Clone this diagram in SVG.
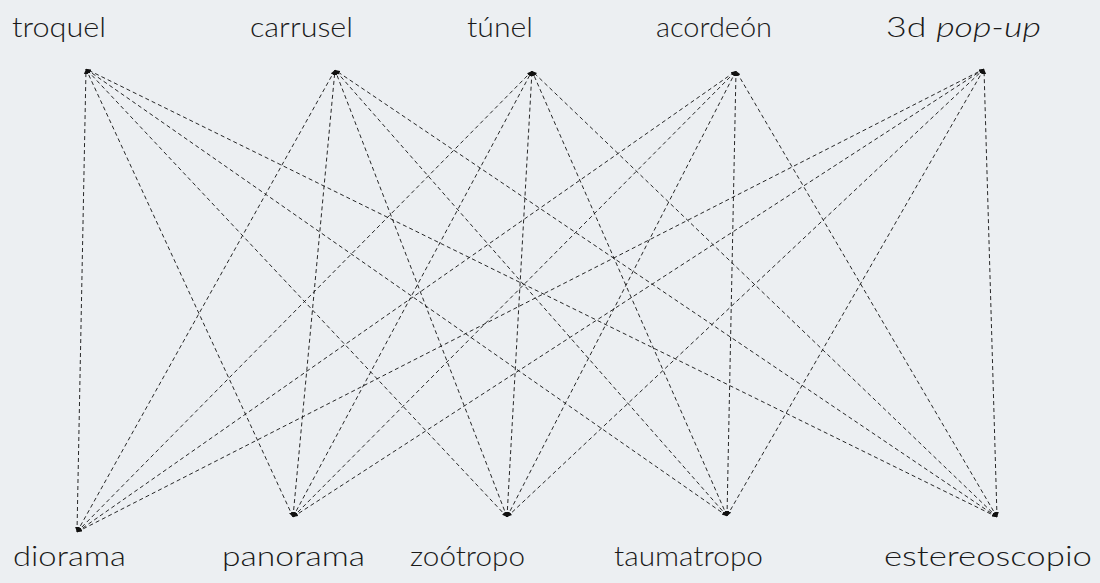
<svg xmlns="http://www.w3.org/2000/svg" width="1100" height="583" viewBox="0 0 1100 583">
<style>
.lbl{font-family:"Lato","Liberation Sans",sans-serif;font-weight:300;font-size:27px;fill:#1a1a1a;}
.e{fill:none;stroke:#111;stroke-width:0.9;stroke-dasharray:4 3;marker-start:url(#a);marker-end:url(#a);}
</style>
<defs>
<marker id="a" viewBox="0 0 10 10" refX="10" refY="5" markerWidth="5" markerHeight="5" markerUnits="userSpaceOnUse" orient="auto-start-reverse">
<path d="M0,1 L10,5 L0,9 Z" fill="#111"/>
</marker>
</defs>
<rect width="1100" height="583" fill="#ECEFF2"/>
<g id="connectors">
<path class="e" d="M77,532 L86,69"/><path class="e" d="M77,532 L335,70"/><path class="e" d="M77,532 L532,71"/><path class="e" d="M77,532 L736,71"/><path class="e" d="M77,532 L984,69"/>
<path class="e" d="M293,517 L86,69"/><path class="e" d="M293,517 L335,70"/><path class="e" d="M293,517 L532,71"/><path class="e" d="M293,517 L736,71"/><path class="e" d="M293,517 L984,69"/>
<path class="e" d="M507,517 L86,69"/><path class="e" d="M507,517 L335,70"/><path class="e" d="M507,517 L532,71"/><path class="e" d="M507,517 L736,71"/><path class="e" d="M507,517 L984,69"/>
<path class="e" d="M727,516 L86,69"/><path class="e" d="M727,516 L335,70"/><path class="e" d="M727,516 L532,71"/><path class="e" d="M727,516 L736,71"/><path class="e" d="M727,516 L984,69"/>
<path class="e" d="M997,517 L86,69"/><path class="e" d="M997,517 L335,70"/><path class="e" d="M997,517 L532,71"/><path class="e" d="M997,517 L736,71"/><path class="e" d="M997,517 L984,69"/>
</g>
<g id="troquel"><text class="lbl" x="12" y="37" textLength="94" lengthAdjust="spacingAndGlyphs">troquel</text></g>
<g id="carrusel"><text class="lbl" x="250" y="37" textLength="103" lengthAdjust="spacingAndGlyphs">carrusel</text></g>
<g id="tunel"><text class="lbl" x="467" y="37" textLength="66" lengthAdjust="spacingAndGlyphs">túnel</text></g>
<g id="acordeon"><text class="lbl" x="656" y="37" textLength="116" lengthAdjust="spacingAndGlyphs">acordeón</text></g>
<g id="popup"><text class="lbl" x="886" y="37" textLength="155" lengthAdjust="spacingAndGlyphs">3d <tspan font-style="italic">pop-up</tspan></text></g>
<g id="diorama"><text class="lbl" x="13" y="566" textLength="113" lengthAdjust="spacingAndGlyphs">diorama</text></g>
<g id="panorama"><text class="lbl" x="222" y="566" textLength="143" lengthAdjust="spacingAndGlyphs">panorama</text></g>
<g id="zootropo"><text class="lbl" x="410" y="566" textLength="115" lengthAdjust="spacingAndGlyphs">zoótropo</text></g>
<g id="taumatropo"><text class="lbl" x="614" y="566" textLength="149" lengthAdjust="spacingAndGlyphs">taumatropo</text></g>
<g id="estereoscopio"><text class="lbl" x="884" y="566" textLength="208" lengthAdjust="spacingAndGlyphs">estereoscopio</text></g>
</svg>
